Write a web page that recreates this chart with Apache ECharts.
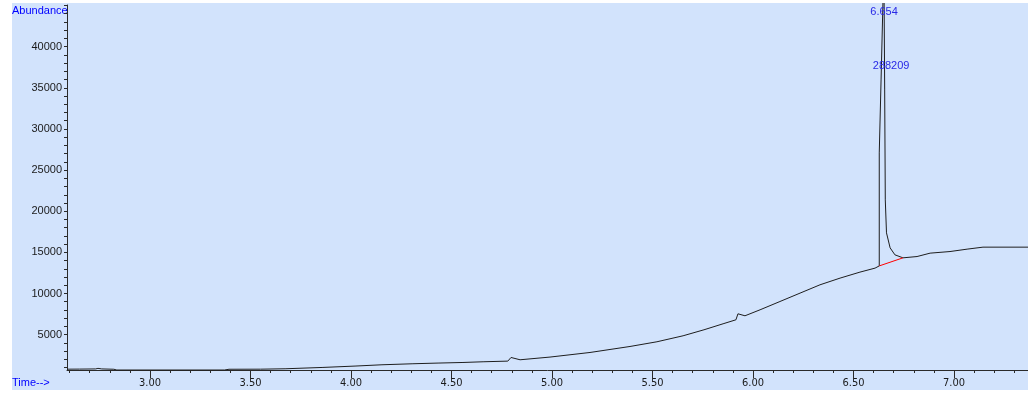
<!DOCTYPE html>
<html>
<head>
<meta charset="utf-8">
<script src="https://cdn.jsdelivr.net/npm/echarts@6/dist/echarts.min.js"></script>
<style>
  html, body { margin: 0; padding: 0; background: #ffffff; width: 1028px; height: 393px; overflow: hidden; }
  #chart { position: absolute; left: 12px; top: 3px; width: 1016px; height: 387px; }
</style>
</head>
<body>
<div id="chart"></div>
<script>
// Retention time (min) and abundance
const times = [
  2.587, 2.650, 2.730, 2.741, 2.760, 2.820, 2.835, 3.370, 3.393, 3.550,
  3.672, 3.856, 4.020, 4.154, 4.308, 4.433, 4.557, 4.657, 4.780, 4.796,
  4.841, 4.990, 5.189, 5.388, 5.522, 5.652, 5.756, 5.851, 5.915, 5.925,
  5.960, 6.035, 6.134, 6.234, 6.333, 6.433, 6.532, 6.607, 6.628, 6.628,
  6.637, 6.651, 6.655, 6.658, 6.664, 6.682, 6.706, 6.746, 6.816, 6.881,
  6.980, 7.065, 7.144, 7.368
];
const abundance = [
  800, 810, 830, 900, 830, 790, 700, 700, 790, 800,
  850, 1008, 1178, 1336, 1458, 1543, 1615, 1700, 1780, 2223,
  1943, 2271, 2830, 3559, 4130, 4858, 5587, 6316, 6802, 7531,
  7288, 8017, 9025, 10045, 11053, 11867, 12596, 13082, 13350, 27086,
  35953, 50000, 34738, 21377, 17369, 15547, 14697, 14333, 14490, 14903,
  15098, 15389, 15632, 15632
];
// Integration baseline under the peak
const baselineTimes = [6.628, 6.746];
const baselineValues = [13350, 14333];
// Peak annotations
const peakTime = 6.654;
const peakLabel = '6.654';
const peakArea = '288209';
// Tick labels
const yLabels = [5000, 10000, 15000, 20000, 25000, 30000, 35000, 40000];
const xLabels = [3.0, 3.5, 4.0, 4.5, 5.0, 5.5, 6.0, 6.5, 7.0];

const yMinorTicks = [];
for (let v = 1000; v <= 45000; v += 1000) yMinorTicks.push(v);
const xMinorTicks = [];
for (let i = 26; i <= 73; i++) xMinorTicks.push(Math.round(i) / 10);

const series = times.map((t, i) => [t, abundance[i]]);
const base = baselineTimes.map((t, i) => [t, baselineValues[i]]);

const chart = echarts.init(document.getElementById('chart'), null, { renderer: 'canvas' });
const axisColor = '#2a2a2a';
const labelFont = 'Liberation Sans, Arial, sans-serif';

chart.setOption({
  backgroundColor: '#d2e3fc',
  animation: false,
  grid: { left: 55, right: 0, top: 2, bottom: 20 },
  xAxis: [{
    type: 'value', min: 2.587, max: 7.368,
    axisLine: { show: true, lineStyle: { color: axisColor, width: 1 } },
    axisTick: { show: true, length: 3, customValues: xMinorTicks, lineStyle: { color: axisColor } },
    axisLabel: {
      customValues: xLabels, formatter: v => v.toFixed(2),
      color: '#1a1a1a', fontSize: 11, fontFamily: 'Liberation Sans Narrow, DejaVu Sans Condensed, sans-serif', margin: 8
    },
    splitLine: { show: false }
  }, {
    type: 'value', min: 2.587, max: 7.368, position: 'bottom',
    axisLine: { show: false },
    axisTick: { show: true, length: 8, customValues: xLabels, lineStyle: { color: axisColor } },
    axisLabel: { show: false },
    splitLine: { show: false }
  }],
  yAxis: {
    type: 'value', min: 700, max: 45063,
    axisLine: { show: true, lineStyle: { color: axisColor, width: 1 } },
    axisTick: { show: true, length: 3, customValues: yMinorTicks, lineStyle: { color: axisColor } },
    axisLabel: { customValues: yLabels, formatter: v => String(v), color: '#1a1a1a', fontSize: 11, fontFamily: labelFont, margin: 5 },
    splitLine: { show: false }
  },
  series: [{
    type: 'line', data: series, showSymbol: false, clip: false,
    lineStyle: { color: '#1e1e1e', width: 1 },
    markPoint: {
      symbol: 'circle', symbolSize: 1, itemStyle: { color: 'rgba(0,0,0,0)' },
      label: { show: true, position: 'inside', color: '#2828e6', fontSize: 11, fontFamily: labelFont },
      data: [
        { coord: [6.652, 44230], value: peakLabel, label: { formatter: peakLabel } },
        { coord: [6.687, 37650], value: peakArea, label: { formatter: peakArea } }
      ]
    }
  }, {
    type: 'line', data: base, showSymbol: false,
    lineStyle: { color: '#ff0000', width: 1 }
  }],
  graphic: [
    { type: 'text', left: 0, top: 2, style: { text: 'Abundance', fill: '#0000ff', font: '11px ' + labelFont } },
    { type: 'text', left: 0, bottom: 2, style: { text: 'Time-->', fill: '#0000ff', font: '11px ' + labelFont } }
  ]
});
</script>
</body>
</html>
